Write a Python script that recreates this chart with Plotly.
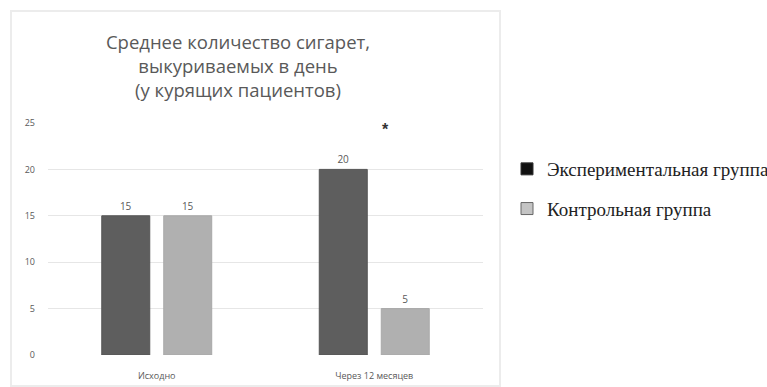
import plotly.graph_objects as go

categories = ["Исходно", "Через 12 месяцев"]
exp_values = [15, 20]
ctrl_values = [15, 5]
series_names = ["Экспериментальная группа", "Контрольная группа"]
title_lines = ["Среднее количество сигарет,", "выкуриваемых в день", "(у курящих пациентов)"]
y_ticks = [0, 5, 10, 15, 20, 25]

L, R, T, B = 48, 284, 123, 32
W, H = 767, 387
pw, ph = W - L - R, H - T - B

fig = go.Figure()
fig.add_trace(go.Bar(x=categories, y=exp_values, name=series_names[0], offsetgroup="1",
                     marker=dict(color="#5e5e5e", line=dict(color="#555555", width=1)),
                     text=exp_values, textposition="outside", cliponaxis=False,
                     textfont=dict(size=10, color="#595959", family="Open Sans"),
                     showlegend=False))
fig.add_trace(go.Bar(x=categories, y=ctrl_values, name=series_names[1], offsetgroup="2",
                     marker=dict(color="#b0b0b0", line=dict(color="#a8a8a8", width=1)),
                     text=ctrl_values, textposition="outside", cliponaxis=False,
                     textfont=dict(size=10, color="#595959", family="Open Sans"),
                     showlegend=False))
# legend entries
fig.add_trace(go.Bar(x=[None], y=[None], name=series_names[0], legendgroup="a", offsetgroup="1",
                     marker=dict(color="#111111", line=dict(color="#333333", width=1))))
fig.add_trace(go.Bar(x=[None], y=[None], name=series_names[1], legendgroup="b", offsetgroup="2",
                     marker=dict(color="#c4c4c4", line=dict(color="#666666", width=1))))

fig.add_annotation(x=categories[1], y=24.3, text="<b>*</b>", showarrow=False,
                   xshift=11, font=dict(size=16, color="#333333", family="Liberation Sans"))

# chart border
fig.add_shape(type="rect", xref="paper", yref="paper",
              x0=(11 - L) / pw, x1=(500 - L) / pw,
              y0=(H - 386 - B) / ph, y1=(H - 11 - B) / ph,
              line=dict(color="#ececec", width=2), fillcolor="rgba(0,0,0,0)", layer="below")

fig.update_layout(
    width=W, height=H,
    margin=dict(l=L, r=R, t=T, b=B, autoexpand=False),
    paper_bgcolor="white", plot_bgcolor="white",
    barmode="group", bargap=0.43, bargroupgap=0.226,
    title=dict(text="<br>".join(title_lines), x=238 / W, xanchor="center",
               y=1 - 49 / H, yanchor="top",
               font=dict(size=18.5, color="#595959", family="Open Sans")),
    xaxis=dict(showgrid=False, showline=False, ticks="", ticklabelstandoff=14, automargin=False,
               tickfont=dict(size=9, color="#595959", family="Open Sans")),
    yaxis=dict(range=[0, 25], tickvals=y_ticks, showgrid=True, gridcolor="#e6e6e6", automargin=False,
               gridwidth=1, zeroline=False, showline=False, ticks="", ticklabelstandoff=12,
               tickfont=dict(size=9, color="#595959", family="Open Sans")),
    legend=dict(x=(507 - L) / pw, xanchor="left", y=(H - 150 - B) / ph, yanchor="top",
                font=dict(size=19, color="#222222", family="Liberation Serif"),
                tracegroupgap=12, itemwidth=30, bgcolor="rgba(0,0,0,0)"),
    showlegend=True,
)
fig.write_html("out.html")
